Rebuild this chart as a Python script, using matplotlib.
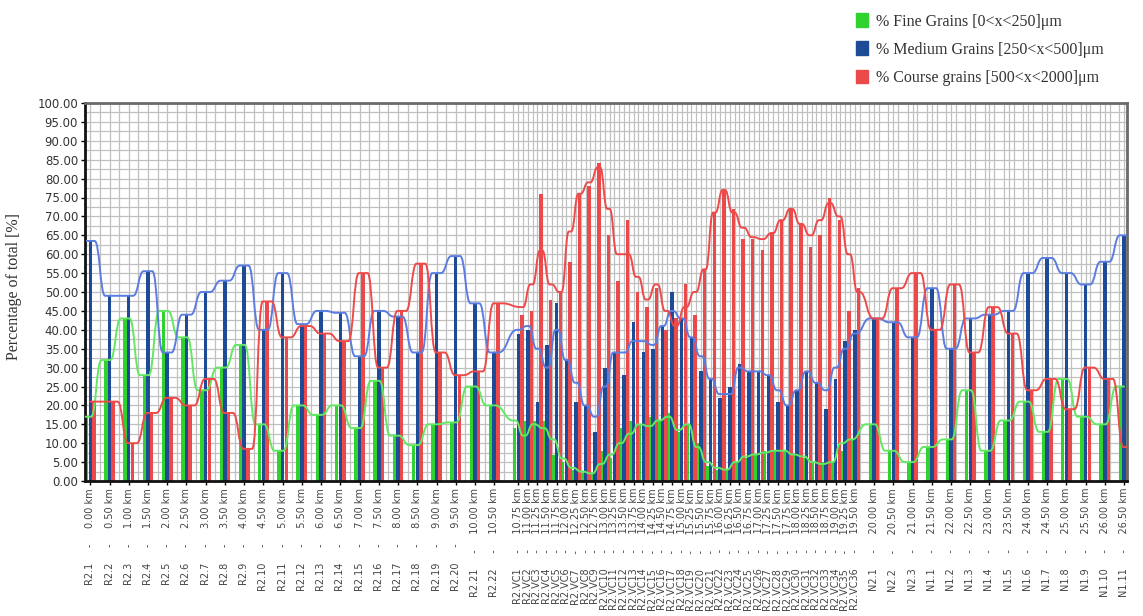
import matplotlib
matplotlib.use("Agg")
import matplotlib.pyplot as plt
import numpy as np
from matplotlib.path import Path
from matplotlib.patches import PathPatch, Patch

# ---- categories -------------------------------------------------------
left_names = ["R2.%d" % i for i in range(1, 23)]
left_km = [0.00, 0.50, 1.00, 1.50, 2.00, 2.50, 3.00, 3.50, 4.00, 4.50, 5.00,
           5.50, 6.00, 6.50, 7.00, 7.50, 8.00, 8.50, 9.00, 9.50, 10.00, 10.50]
mid_names = ["R2.VC%d" % i for i in range(1, 37)]
mid_km = [10.75, 11.00, 11.25, 11.50, 11.75, 12.00, 12.25, 12.50, 12.75, 13.00,
          13.25, 13.50, 13.75, 14.00, 14.25, 14.50, 14.75, 15.00, 15.25, 15.50,
          15.75, 16.00, 16.25, 16.50, 16.75, 17.00, 17.25, 17.50, 17.75, 18.00,
          18.25, 18.50, 18.75, 19.00, 19.25, 19.50]
right_names = ["N2.1", "N2.2", "N2.3", "N1.1", "N1.2", "N1.3", "N1.4", "N1.5",
               "N1.6", "N1.7", "N1.8", "N1.9", "N1.10", "N1.11"]
right_km = [20.00, 20.50, 21.00, 21.50, 22.00, 22.50, 23.00, 23.50, 24.00,
            24.50, 25.00, 25.50, 26.00, 26.50]

# ---- values (% of total) ---------------------------------------------
fine_left = [17, 32, 43, 28, 45, 38, 24, 30, 36, 15, 8, 20, 17.5, 20, 14, 26.5,
             12, 9.5, 15, 15.5, 25, 20]
medium_left = [63.5, 49, 49, 55.5, 34, 44, 50, 53, 57, 40, 55, 41.5, 45, 44.5,
               33, 45, 43.5, 34, 55, 59.5, 47, 34]
coarse_left = [21, 21, 10, 18, 22, 20, 27, 18, 8.5, 47.5, 38, 41, 39, 37, 55,
               30, 45, 57.5, 34, 28, 29, 47]

fine_mid = [14, 16, 16, 16, 7, 5, 3, 2, 2, 8, 6, 14, 16, 15, 17, 16, 18, 13,
            15, 10, 4, 3, 3, 5, 6, 7, 8, 8, 8, 7, 6, 5, 5, 5, 8, 11]
medium_mid = [39, 40, 21, 36, 47, 32, 21, 20, 13, 30, 34, 28, 42, 34, 35, 41,
              50, 43, 38, 29, 27, 22, 25, 31, 29, 29, 28, 21, 20, 24, 29, 26,
              19, 27, 37, 40]
coarse_mid = [44, 45, 76, 48, 50, 58, 76, 78, 84, 65, 53, 69, 50, 46, 51, 40,
              43, 52, 44, 56, 71, 77, 72, 64, 64, 61, 66, 69, 72, 68, 62, 65,
              75, 69, 45, 51]
# trend lines in the dense stretch
fine_mid_line = [16, 12, 15, 14, 11, 6, 3.5, 2.5, 2, 4.5, 7, 10, 12.5, 15, 14.5,
                 16, 17, 13.5, 15, 9, 5, 3.5, 3, 5, 6.5, 7, 7.5, 8, 8, 7, 6.5,
                 5, 4.5, 5, 10, 11]
medium_mid_line = [40, 41, 35, 30, 40, 32, 26, 20, 17, 25, 34, 34, 37, 37, 36,
                   41, 45, 43, 38, 33, 27, 23, 23, 30, 29, 29, 28, 24, 20, 24,
                   29, 26, 24, 30, 35, 39]
coarse_mid_line = [46, 52, 61, 52, 50, 66, 76, 79, 83, 72, 60, 60, 54, 48, 52,
                   45, 41, 46, 50, 56, 71, 77, 71, 67, 64.5, 64, 65.5, 69, 72,
                   68, 65, 69, 73.5, 70, 60, 50]

fine_right = [15, 8, 5, 9, 11, 24, 8, 16, 21, 13, 27, 17, 15, 25]
medium_right = [43, 42, 38, 51, 35, 43, 44, 45, 55, 59, 55, 52, 58, 65]
coarse_right = [43, 51, 55, 40, 52, 34, 46, 39, 24, 27, 19, 30, 27, 9]

legend_labels = ["% Fine Grains [0<x<250]\u03bcm",
                 "% Medium Grains [250<x<500]\u03bcm",
                 "% Course grains [500<x<2000]\u03bcm"]
bar_colors = ["#2fd22f", "#1d4b95", "#ec4a4a"]
line_colors = ["#62e862", "#5b7de2", "#ee4a4a"]

# ---- layout -----------------------------------------------------------
n_l, n_m, n_r = len(left_km), len(mid_km), len(right_km)
pos = np.concatenate([np.arange(n_l) * 2.0,
                      44.5 + np.arange(n_m),
                      81.5 + 2.0 * np.arange(n_r)])
half = np.concatenate([np.full(n_l, 0.45), np.full(n_m, 0.12), np.full(n_r, 0.45)])

names = left_names + mid_names + right_names
kms = left_km + mid_km + right_km
xlabels = ["%s     -     %.2f km" % (n, k) for n, k in zip(names, kms)]

fine = fine_left + fine_mid + fine_right
medium = medium_left + medium_mid + medium_right
coarse = coarse_left + coarse_mid + coarse_right
fine_line = fine_left + fine_mid_line + fine_right
medium_line = medium_left + medium_mid_line + medium_right
coarse_line = coarse_left + coarse_mid_line + coarse_right


def smooth_path(xs, ys, hs):
    # flat top around each point, S-curve between points
    verts, codes = [], []
    for i, (x, y, h) in enumerate(zip(xs, ys, hs)):
        a, b = x - h, x + h
        if i == 0:
            verts.append((a, y))
            codes.append(Path.MOVETO)
        else:
            px, py = verts[-1]
            g = a - px
            verts += [(px + g * 0.5, py), (a - g * 0.5, y), (a, y)]
            codes += [Path.CURVE4] * 3
        verts.append((b, y))
        codes.append(Path.LINETO)
    return Path(verts, codes)


fig = plt.figure(figsize=(11.43, 6.16), dpi=100)
ax = fig.add_axes([85 / 1143, (616 - 481) / 616, (1127 - 85) / 1143, (481 - 103) / 616])

bw = 0.36
offs = [-0.38, 0.0, 0.38]
series = [fine, medium, coarse]
lines = [fine_line, medium_line, coarse_line]
for vals, off, c in zip(series, offs, bar_colors):
    ax.bar(pos + off, vals, width=bw, color=c, zorder=2, linewidth=0)
for vals, off, c in zip(lines, offs, line_colors):
    p = smooth_path(pos + off, vals, half)
    ax.add_patch(PathPatch(p, fill=False, edgecolor=c, lw=1.4, zorder=3))

ax.set_xlim(-0.55, 107.8)
ax.set_ylim(0, 100)

ax.set_yticks(np.arange(0, 101, 5))
ax.set_yticklabels(["%.2f" % v for v in np.arange(0, 101, 5)], fontsize=8.5, color="#333333")
ax.set_yticks(np.arange(0, 100, 2.5), minor=True)
ax.set_xticks(pos)
ax.set_xticklabels(xlabels, rotation=90, fontsize=7, color="#444444")
ax.set_xticks(np.arange(0, 108, 1.0), minor=True)
ax.tick_params(axis="x", which="major", length=3, width=1, pad=2)
ax.tick_params(axis="x", which="minor", length=0)
ax.tick_params(axis="y", which="major", length=3, width=1, pad=2)
ax.tick_params(axis="y", which="minor", length=0)

ax.grid(True, which="both", color="#c0c0c0", lw=0.9, zorder=0)
ax.set_axisbelow(True)
for s in ["top", "right"]:
    ax.spines[s].set_color("#6a6a6a")
    ax.spines[s].set_linewidth(2)
for s in ["left", "bottom"]:
    ax.spines[s].set_color("#111111")
    ax.spines[s].set_linewidth(2)

fig.text(14 / 1143, 1 - 286 / 616, "Percentage of total [%]", rotation=90,
         ha="center", va="center", fontsize=11.5, family="Liberation Serif", color="#333333")

handles = [Patch(color=c) for c in bar_colors]
fig.legend(handles, legend_labels, loc="upper left", bbox_to_anchor=(842 / 1143, 1 + 1 / 616),
           frameon=False, prop={"family": "Liberation Serif", "size": 11.5},
           handlelength=0.7, handleheight=0.9, handletextpad=0.5, labelspacing=0.75,
           labelcolor="#333333")

fig.savefig("out.png", dpi=100)
